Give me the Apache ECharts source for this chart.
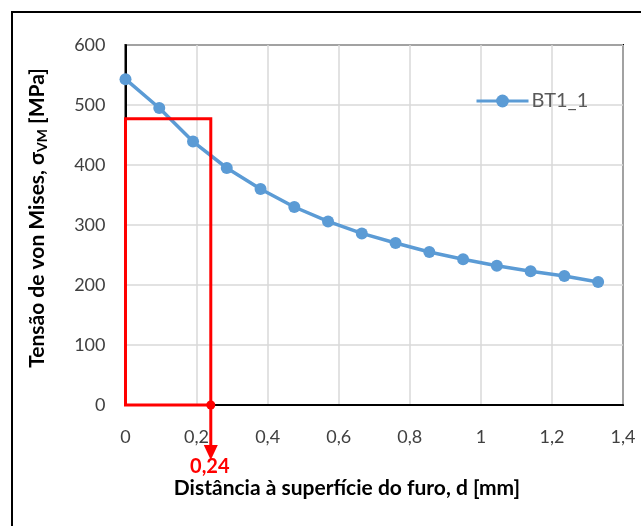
<!DOCTYPE html>
<html>
<head>
<meta charset="utf-8">
<script src="https://cdn.jsdelivr.net/npm/echarts@6/dist/echarts.min.js"></script>
<style>
  html, body { margin: 0; padding: 0; background: #ffffff; }
  #chart { width: 641px; height: 526px; }
</style>
</head>
<body>
<div id="chart"></div>
<script>
// Von Mises stress profile along the distance from the hole surface
const seriesName = 'BT1_1';
const distance = [0, 0.095, 0.19, 0.285, 0.38, 0.475, 0.57, 0.665, 0.76, 0.855, 0.95, 1.045, 1.14, 1.235, 1.33];
const stress = [543, 495, 439, 395, 360, 330, 306, 286, 270, 255, 243, 232, 223, 215, 205];

// Highlighted depth and the stress level bounding the red box
const markDistance = 0.24;
const markStress = 477;

// Axis ranges / ticks
const xTicks = { min: 0, max: 1.4, interval: 0.2 };
const yTicks = { min: 0, max: 600, interval: 100 };

const FONT = 'Lato, "Open Sans", "DejaVu Sans", sans-serif';
const RED = '#FF0000';
const BLUE = '#5B9BD5';

const fmtComma = v => String(+v.toFixed(2)).replace('.', ',');

const chart = echarts.init(document.getElementById('chart'), null, { renderer: 'canvas' });

chart.setOption({
  backgroundColor: '#ffffff',
  animation: false,
  grid: {
    left: 125.5, right: 18, top: 45, bottom: 121,
    show: true, borderColor: '#000000', borderWidth: 2,
    containLabel: false
  },
  legend: {
    data: [seriesName],
    left: 470, top: 86,
    itemWidth: 52, itemHeight: 16, itemGap: 4,
    lineStyle: { width: 3 },
    textStyle: { color: '#595959', fontSize: 20, fontFamily: FONT, padding: [0, 0, 0, -2] },
    selectedMode: false
  },
  xAxis: {
    type: 'value',
    min: xTicks.min, max: xTicks.max, interval: xTicks.interval,
    axisLine: { show: true, lineStyle: { color: '#000000', width: 2 } },
    axisTick: { show: false },
    splitLine: { show: true, lineStyle: { color: '#D9D9D9', width: 1.5 } },
    axisLabel: {
      margin: 23, color: '#404040', fontSize: 18, fontFamily: FONT,
      formatter: v => fmtComma(v)
    }
  },
  yAxis: {
    type: 'value',
    min: yTicks.min, max: yTicks.max, interval: yTicks.interval,
    axisLine: { show: true, lineStyle: { color: '#000000', width: 2 } },
    axisTick: { show: false },
    splitLine: { show: true, lineStyle: { color: '#D9D9D9', width: 1.5 } },
    axisLabel: {
      margin: 20, color: '#404040', fontSize: 18, fontFamily: FONT
    }
  },
  graphic: [
    {
      // outer chart frame
      type: 'rect', silent: true, z: -1,
      shape: { x: 12, y: 12, width: 700, height: 600 },
      style: { fill: 'none', stroke: '#000000', lineWidth: 2 }
    },
    {
      type: 'text', silent: true,
      x: 37, y: 218, rotation: Math.PI / 2,
      style: {
        text: '{m|Tensão de von Mises, σ}{s|VM}{m| [MPa]}',
        align: 'center', verticalAlign: 'middle',
        rich: {
          m: { fontSize: 21, fontWeight: 'bold', fontFamily: FONT, fill: '#000000', lineHeight: 24 },
          s: { fontSize: 14, fontWeight: 'bold', fontFamily: FONT, fill: '#000000', lineHeight: 14, verticalAlign: 'bottom' }
        }
      }
    },
    {
      type: 'text', silent: true,
      x: 347, y: 488,
      style: {
        text: 'Distância à superfície do furo, d [mm]',
        align: 'center', verticalAlign: 'middle',
        fontSize: 21, fontWeight: 'bold', fontFamily: FONT, fill: '#000000'
      }
    }
  ],
  series: [
    {
      name: seriesName,
      type: 'line',
      data: distance.map((d, i) => [d, stress[i]]),
      symbol: 'circle',
      symbolSize: 12,
      lineStyle: { color: BLUE, width: 3.5 },
      itemStyle: { color: BLUE },
      z: 2
    },
    {
      // red box, marker dot, arrow and depth label
      type: 'custom',
      silent: true,
      clip: false,
      z: 5,
      data: [[markDistance, markStress]],
      renderItem: (params, api) => {
        const d = api.value(0);
        const s = api.value(1);
        const p0 = api.coord([0, 0]);
        const pTop = api.coord([d, s]);
        const pBase = api.coord([d, 0]);
        const arrowLen = 55;
        const headLen = 15;
        const headHalf = 7;
        return {
          type: 'group',
          children: [
            {
              type: 'rect',
              shape: { x: p0[0], y: pTop[1], width: pBase[0] - p0[0], height: p0[1] - pTop[1] },
              style: { fill: 'none', stroke: RED, lineWidth: 3 }
            },
            {
              type: 'line',
              shape: { x1: pBase[0], y1: pBase[1], x2: pBase[0], y2: pBase[1] + arrowLen - headLen + 1 },
              style: { stroke: RED, lineWidth: 3 }
            },
            {
              type: 'polygon',
              shape: { points: [
                [pBase[0] - headHalf, pBase[1] + arrowLen - headLen],
                [pBase[0] + headHalf, pBase[1] + arrowLen - headLen],
                [pBase[0], pBase[1] + arrowLen]
              ] },
              style: { fill: RED }
            },
            {
              type: 'circle',
              shape: { cx: pBase[0], cy: pBase[1], r: 4.5 },
              style: { fill: RED }
            },
            {
              type: 'text',
              x: pBase[0] - 1, y: pBase[1] + 62,
              style: {
                text: fmtComma(d),
                align: 'center', verticalAlign: 'middle',
                fontSize: 20, fontWeight: 'bold', fontFamily: FONT, fill: RED
              }
            }
          ]
        };
      }
    }
  ]
});
</script>
</body>
</html>
